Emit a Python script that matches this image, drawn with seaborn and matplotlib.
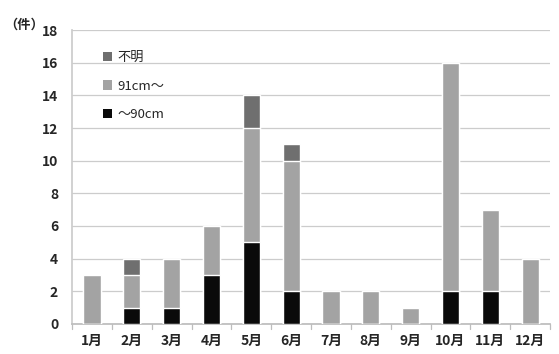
import matplotlib
matplotlib.use("Agg")
import matplotlib.pyplot as plt
import seaborn as sns
import pandas as pd
import numpy as np
from matplotlib.patches import Patch

months = ["1月", "2月", "3月", "4月", "5月", "6月", "7月", "8月", "9月", "10月", "11月", "12月"]
upto90 = [0, 1, 1, 3, 5, 2, 0, 0, 0, 2, 2, 0]
over91 = [3, 2, 3, 3, 7, 8, 2, 2, 1, 14, 5, 4]
unknown = [0, 1, 0, 0, 2, 1, 0, 0, 0, 0, 0, 0]

labels = ["不明", "91cm～", "～90cm"]
colors = ["#6f6f6f", "#a3a3a3", "#0a0a0a"]

sns.set_theme(style="white")
plt.rcParams["font.family"] = ["Noto Sans CJK JP", "DejaVu Sans"]

df = pd.DataFrame({"month": months, "a": upto90, "b": over91, "c": unknown})
df["ab"] = df["a"] + df["b"]
df["abc"] = df["ab"] + df["c"]

fig = plt.figure(figsize=(5.59, 3.54), dpi=100)
ax = fig.add_axes([0.129, 0.085, 0.855, 0.83])

# stacked bars: draw cumulative totals back to front
for col, color in zip(["abc", "ab", "a"], colors):
    sns.barplot(data=df, x="month", y=col, color=color, width=0.43,
                saturation=1, ax=ax, zorder=3)

ax.set_ylim(0, 18)
ax.set_yticks(np.arange(0, 19, 2))
ax.set_xlim(-0.5, len(months) - 0.5)
ax.yaxis.grid(True, color="#cccccc", linewidth=0.9, zorder=0)
ax.set_axisbelow(True)
ax.set_xlabel("")
ax.set_ylabel("")

for s in ["top", "right"]:
    ax.spines[s].set_visible(False)
ax.spines["left"].set_color("#cccccc")
ax.spines["bottom"].set_color("#bdbdbd")

ax.set_xticks(np.arange(len(months)))
ax.set_xticklabels(months, fontsize=10, fontweight="bold")
ax.tick_params(axis="x", length=0, pad=7)
ax.tick_params(axis="y", length=0, pad=10, labelsize=10)
for t in ax.get_yticklabels():
    t.set_fontweight("bold")

# tick marks between categories
for xb in np.arange(-0.5, len(months) + 0.5, 1.0):
    ax.plot([xb, xb], [0, -0.3], color="#bdbdbd", linewidth=0.9,
            clip_on=False, zorder=2)

fig.text(0.008, 0.93, "（件）", fontsize=9.5, fontweight="bold", va="center", ha="left")

handles = [Patch(facecolor=c, edgecolor="none") for c in colors]
leg = ax.legend(handles, labels, loc="upper left", bbox_to_anchor=(0.04, 0.97),
                frameon=False, fontsize=9.5, handlelength=0.7, handleheight=0.7,
                labelspacing=1.2, handletextpad=0.4)

fig.savefig("out.png", dpi=100)
